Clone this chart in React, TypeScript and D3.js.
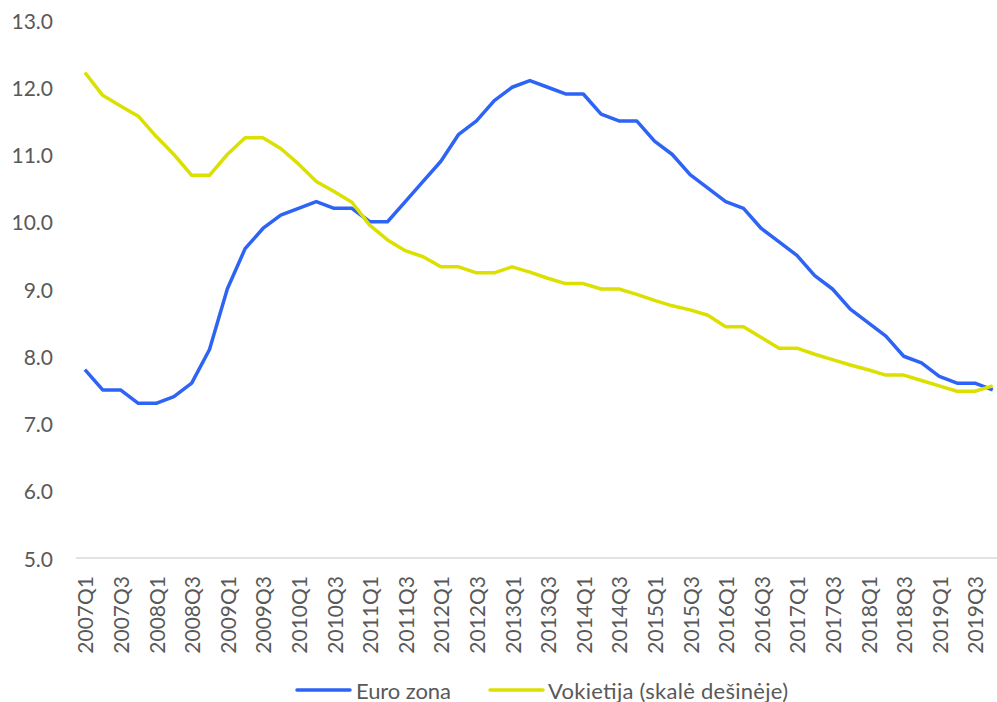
import React from "react";
import * as d3 from "d3";

const quarters: string[] = [];
for (let y = 2007; y <= 2019; y++) for (let q = 1; q <= 4; q++) quarters.push(`${y}Q${q}`);

const euroZona = [
  7.8, 7.5, 7.5, 7.3, 7.3, 7.4, 7.6, 8.1,
  9.0, 9.6, 9.9, 10.1, 10.2, 10.3, 10.2, 10.2,
  10.0, 10.0, 10.3, 10.6, 10.9, 11.3, 11.5, 11.8,
  12.0, 12.1, 12.0, 11.9, 11.9, 11.6, 11.5, 11.5,
  11.2, 11.0, 10.7, 10.5, 10.3, 10.2, 9.9, 9.7,
  9.5, 9.2, 9.0, 8.7, 8.5, 8.3, 8.0, 7.9,
  7.7, 7.6, 7.6, 7.5,
];

// Germany, plotted in left-axis units as it appears on the chart
const vokietija = [
  12.22, 11.88, 11.72, 11.57, 11.27, 11.0, 10.69, 10.69,
  11.0, 11.25, 11.25, 11.09, 10.86, 10.6, 10.45, 10.29,
  9.95, 9.73, 9.57, 9.48, 9.33, 9.33, 9.24, 9.24,
  9.33, 9.25, 9.16, 9.08, 9.08, 9.0, 9.0, 8.92,
  8.83, 8.75, 8.69, 8.61, 8.44, 8.44, 8.28, 8.12,
  8.12, 8.03, 7.95, 7.87, 7.8, 7.72, 7.72, 7.64,
  7.56, 7.48, 7.48, 7.56,
];

const yTicks = [5, 6, 7, 8, 9, 10, 11, 12, 13];
const seriesNames = ["Euro zona", "Vokietija (skalė dešinėje)"];
const colors = ["#2E64F6", "#DCE000"];

export default function App() {
  const W = 997, H = 702;
  const x = d3.scalePoint<string>().domain(quarters).range([76, 1001.6]).padding(0.5);
  const y = d3.scaleLinear().domain([5, 13]).range([558, 20]);
  const line = d3.line<number>().x((_, i) => x(quarters[i])!).y((d) => y(d));
  const font = "Lato, 'Open Sans', sans-serif";
  const tc = "#595959";
  return (
    <svg width={W} height={H} style={{ position: "absolute", left: 0, top: 0, background: "#fff" }} fontFamily={font}>
      <rect width={W} height={H} fill="#fff" />
      {yTicks.map((t) => (
        <text key={t} x={53} y={y(t)} textAnchor="end" dominantBaseline="central" fontSize={21} fill={tc}>
          {t.toFixed(1)}
        </text>
      ))}
      <line x1={76} x2={W} y1={558} y2={558} stroke="#d9d9d9" strokeWidth={1.5} />
      {quarters.map((q, i) =>
        i % 2 === 0 ? (
          <text
            key={q}
            transform={`translate(${x(q)},576) rotate(-90)`}
            textAnchor="end"
            dominantBaseline="central"
            fontSize={21}
            fill={tc}
          >
            {q}
          </text>
        ) : null
      )}
      <path d={line(euroZona)!} fill="none" stroke={colors[0]} strokeWidth={3.5} strokeLinejoin="round" />
      <path d={line(vokietija)!} fill="none" stroke={colors[1]} strokeWidth={3.5} strokeLinejoin="round" />
      <g>
        <line x1={297} x2={350} y1={690} y2={690} stroke={colors[0]} strokeWidth={3.5} strokeLinecap="round" />
        <text x={356} y={690} dominantBaseline="central" fontSize={22} fill={tc} textLength={95}>{seriesNames[0]}</text>
        <line x1={490} x2={543} y1={690} y2={690} stroke={colors[1]} strokeWidth={3.5} strokeLinecap="round" />
        <text x={548} y={690} dominantBaseline="central" fontSize={22} fill={tc} textLength={240}>{seriesNames[1]}</text>
      </g>
    </svg>
  );
}
